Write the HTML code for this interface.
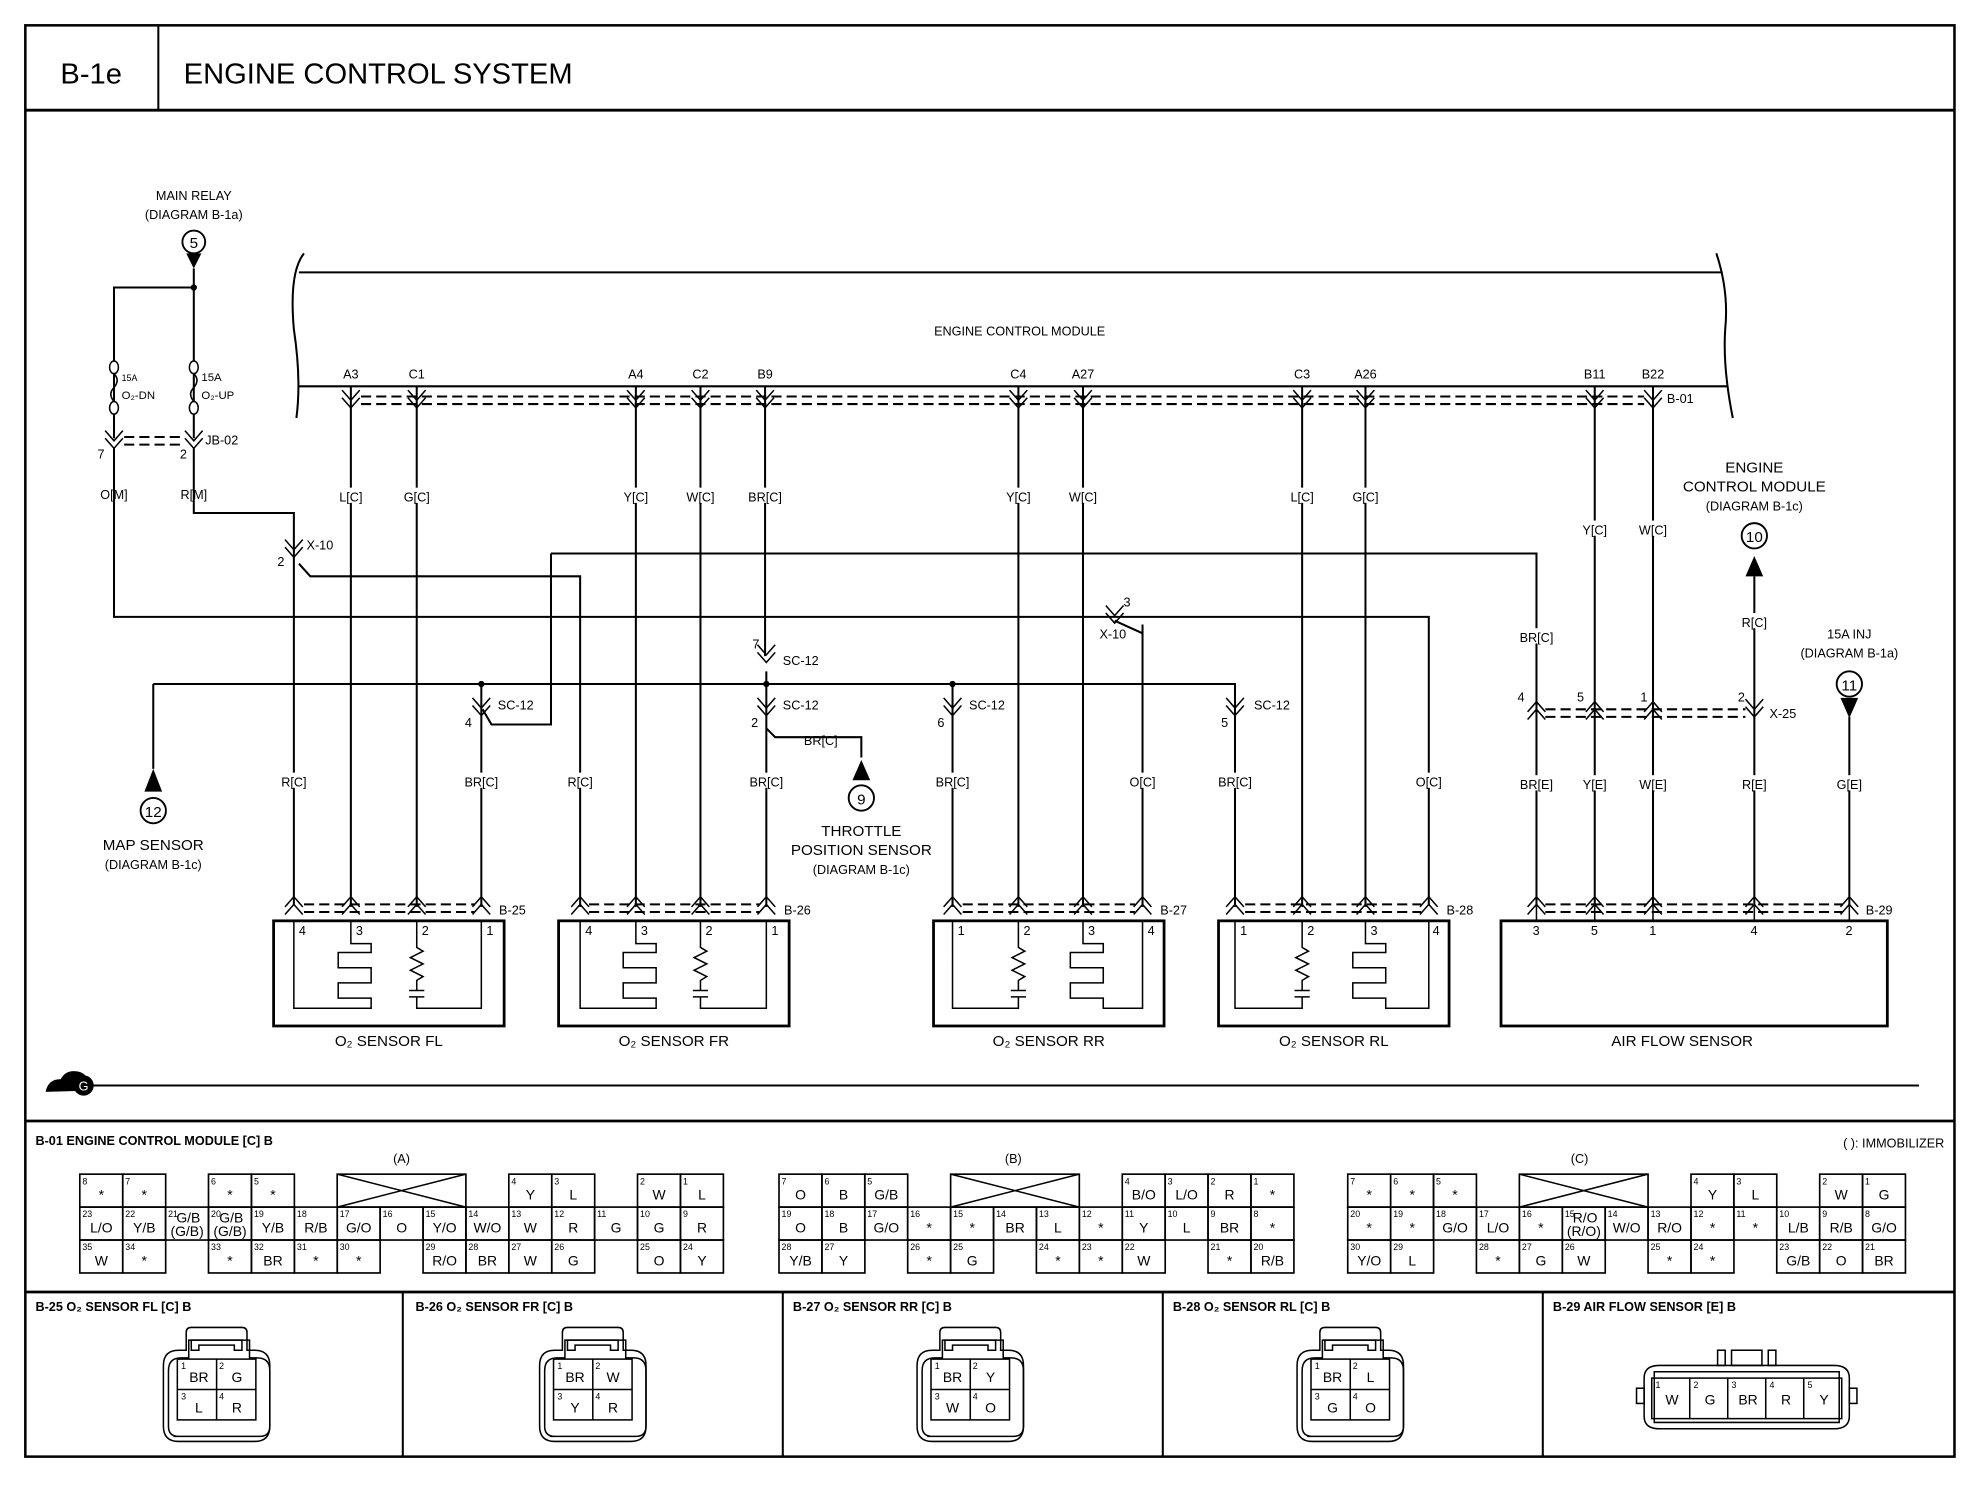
<!DOCTYPE html>
<html><head><meta charset="utf-8">
<style>
html,body{margin:0;padding:0;background:#fff}
svg{display:block}
text{font-family:"Liberation Sans",Arial,sans-serif;fill:#000}
.s{font-size:10px}
.m{font-size:12px}
.n{font-size:7px}
.l{font-size:11px;text-anchor:middle}
.w{stroke:#000;stroke-width:1.6;fill:none}
.t{stroke:#000;stroke-width:1.2;fill:none}
.d{stroke:#000;stroke-width:1.6;fill:none;stroke-dasharray:8,4}
.b{stroke:#000;stroke-width:2.2;fill:none}
</style></head><body>
<svg width="1976" height="1504" viewBox="0 0 1560 1187.4" preserveAspectRatio="none" xmlns="http://www.w3.org/2000/svg">
<defs>
<g id="c"><path d="M-7,-6 L0,2 L7,-6 M-7,0 L0,8 L7,0" class="t"/></g>
<g id="u"><path d="M-7,6 L0,-2 L7,6 M-7,12 L0,4 L7,12" class="t"/></g>
<g id="cell"><rect width="33.9" height="26" fill="none" stroke="#000" stroke-width="1.3"/></g>
</defs>
<rect x="20" y="20" width="1523" height="1130" fill="none" stroke="#000" stroke-width="2"/>
<line x1="20" y1="87" x2="1543" y2="87" class="b"/>
<line x1="125" y1="20" x2="125" y2="87" class="w"/>
<text x="72" y="66" font-size="23" text-anchor="middle">B-1e</text>
<text x="145" y="66" font-size="23">ENGINE CONTROL SYSTEM</text>

<!-- ECM -->
<path d="M240,200 Q228,215 232,260 Q238,300 234,330" class="w"/>
<path d="M1355,200 Q1365,230 1362,260 Q1360,290 1368,330" class="w"/>
<line x1="236" y1="215" x2="1360" y2="215" class="w"/>
<line x1="236" y1="305" x2="1364" y2="305" class="w"/>
<text x="805" y="265" class="s" text-anchor="middle">ENGINE CONTROL MODULE</text>
<g class="s" text-anchor="middle">
<text x="277" y="299">A3</text><text x="329" y="299">C1</text><text x="502" y="299">A4</text><text x="553" y="299">C2</text><text x="604" y="299">B9</text>
<text x="804" y="299">C4</text><text x="855" y="299">A27</text><text x="1028" y="299">C3</text><text x="1078" y="299">A26</text><text x="1259" y="299">B11</text><text x="1305" y="299">B22</text>
</g>
<line x1="285" y1="313" x2="1298" y2="313" class="d"/>
<line x1="285" y1="319" x2="1298" y2="319" class="d"/>
<g>
<use href="#c" x="277" y="314"/><use href="#c" x="329" y="314"/><use href="#c" x="502" y="314"/><use href="#c" x="553" y="314"/><use href="#c" x="604" y="314"/>
<use href="#c" x="804" y="314"/><use href="#c" x="855" y="314"/><use href="#c" x="1028" y="314"/><use href="#c" x="1078" y="314"/><use href="#c" x="1259" y="314"/><use href="#c" x="1305" y="314"/>
</g>
<text x="1316" y="318" class="s">B-01</text>

<!-- vertical ECM wires -->
<g class="w">
<line x1="277" y1="305" x2="277" y2="716"/><line x1="329" y1="305" x2="329" y2="716"/>
<line x1="502" y1="305" x2="502" y2="716"/><line x1="553" y1="305" x2="553" y2="716"/>
<line x1="604" y1="305" x2="604" y2="518"/>
<line x1="804" y1="305" x2="804" y2="716"/><line x1="855" y1="305" x2="855" y2="716"/>
<line x1="1028" y1="305" x2="1028" y2="716"/><line x1="1078" y1="305" x2="1078" y2="716"/>
<line x1="1259" y1="305" x2="1259" y2="716"/><line x1="1305" y1="305" x2="1305" y2="716"/>
</g>
<g class="s" text-anchor="middle">
<rect x="264" y="385" width="26" height="12" fill="#fff"/><text x="277" y="396">L[C]</text>
<rect x="316" y="385" width="26" height="12" fill="#fff"/><text x="329" y="396">G[C]</text>
<rect x="489" y="385" width="26" height="12" fill="#fff"/><text x="502" y="396">Y[C]</text>
<rect x="540" y="385" width="26" height="12" fill="#fff"/><text x="553" y="396">W[C]</text>
<rect x="588" y="385" width="32" height="12" fill="#fff"/><text x="604" y="396">BR[C]</text>
<rect x="791" y="385" width="26" height="12" fill="#fff"/><text x="804" y="396">Y[C]</text>
<rect x="842" y="385" width="26" height="12" fill="#fff"/><text x="855" y="396">W[C]</text>
<rect x="1015" y="385" width="26" height="12" fill="#fff"/><text x="1028" y="396">L[C]</text>
<rect x="1065" y="385" width="26" height="12" fill="#fff"/><text x="1078" y="396">G[C]</text>
<rect x="1246" y="411" width="26" height="12" fill="#fff"/><text x="1259" y="422">Y[C]</text>
<rect x="1292" y="411" width="26" height="12" fill="#fff"/><text x="1305" y="422">W[C]</text>
</g>

<!-- main relay -->
<text x="153" y="158" class="s" text-anchor="middle">MAIN RELAY</text>
<text x="153" y="173" class="s" text-anchor="middle">(DIAGRAM B-1a)</text>
<circle cx="153" cy="191" r="9" fill="#fff" stroke="#000" stroke-width="1.5"/><text x="153" y="196" class="m" text-anchor="middle">5</text>
<path d="M147,200 L159,200 L153,212 Z" fill="#000"/>
<g class="w">
<path d="M153,212 V346 M153,353 V405 H232 V715"/>
<path d="M153,227 H90 V346 M90,353 V487 H1128 V715"/>
<path d="M236,445 L245,455 H458 V716"/>
<path d="M902,493 L902,716"/>
<path d="M435,437 H1213 V716"/>
<path d="M435,437 V572 H388 L381,560"/>
<path d="M121,540 H975 V716"/>
<path d="M121,540 V607"/>
<path d="M380,540 V716"/>
<path d="M605,530 V716"/>
<path d="M752,540 V716"/>
<path d="M605,575 L612,582 H680 V598"/>
<path d="M1385,455 V716"/>
<path d="M1460,566 V716"/>
</g>
<circle cx="153" cy="227" r="2.5"/>
<circle cx="380" cy="540" r="2.5"/><circle cx="605" cy="540" r="2.5"/><circle cx="752" cy="540" r="2.5"/>
<!-- fuses -->
<g class="t" fill="#fff">
<ellipse cx="90" cy="290" rx="3.5" ry="5" fill="#fff"/><ellipse cx="90" cy="322" rx="3.5" ry="5" fill="#fff"/>
<path d="M90,295 q5,5 0,11 q-5,5 0,11" fill="none"/>
<ellipse cx="153" cy="290" rx="3.5" ry="5" fill="#fff"/><ellipse cx="153" cy="322" rx="3.5" ry="5" fill="#fff"/>
<path d="M153,295 q5,5 0,11 q-5,5 0,11" fill="none"/>
</g>
<text x="96" y="301" class="n" font-size="9">15A</text><text x="96" y="315" font-size="9">O₂-DN</text>
<text x="159" y="301" font-size="9">15A</text><text x="159" y="315" font-size="9">O₂-UP</text>
<line x1="98" y1="345" x2="146" y2="345" class="d"/><line x1="98" y1="351" x2="146" y2="351" class="d"/>
<use href="#c" x="90" y="346"/><use href="#c" x="153" y="346"/>
<text x="162" y="351" class="s">JB-02</text><text x="77" y="362" class="s">7</text><text x="142" y="362" class="s">2</text>
<text x="90" y="394" class="s" text-anchor="middle">O[M]</text><text x="153" y="394" class="s" text-anchor="middle">R[M]</text>
<use href="#c" x="232" y="432"/><text x="242" y="434" class="s">X-10</text><text x="219" y="447" class="s">2</text>
<use href="#c" x="880" y="484"/><text x="887" y="479" class="s">3</text><text x="868" y="504" class="s">X-10</text>
<path d="M880,490 L902,500" class="w"/>
<!-- SC-12 -->
<use href="#c" x="605" y="515"/><text x="594" y="512" class="s">7</text><text x="618" y="525" class="s">SC-12</text>
<use href="#c" x="380" y="557"/><text x="393" y="560" class="s">SC-12</text><text x="367" y="574" class="s">4</text>
<use href="#c" x="605" y="557"/><text x="618" y="560" class="s">SC-12</text><text x="593" y="574" class="s">2</text>
<use href="#c" x="752" y="557"/><text x="765" y="560" class="s">SC-12</text><text x="740" y="574" class="s">6</text>
<use href="#c" x="975" y="557"/><text x="990" y="560" class="s">SC-12</text><text x="964" y="574" class="s">5</text>
<text x="648" y="588" class="s" text-anchor="middle">BR[C]</text>
<!-- 9 -->
<path d="M673,616 L687,616 L680,600 Z" fill="#000"/>
<circle cx="680" cy="630" r="10" fill="#fff" stroke="#000" stroke-width="1.5"/><text x="680" y="635" class="m" text-anchor="middle">9</text>
<text x="680" y="660" class="m" text-anchor="middle">THROTTLE</text>
<text x="680" y="675" class="m" text-anchor="middle">POSITION SENSOR</text>
<text x="680" y="690" class="s" text-anchor="middle">(DIAGRAM B-1c)</text>
<!-- 12 -->
<path d="M114,625 L128,625 L121,607 Z" fill="#000"/>
<circle cx="121" cy="640" r="10" fill="#fff" stroke="#000" stroke-width="1.5"/><text x="121" y="645" class="m" text-anchor="middle">12</text>
<text x="121" y="671" class="m" text-anchor="middle">MAP SENSOR</text>
<text x="121" y="686" class="s" text-anchor="middle">(DIAGRAM B-1c)</text>
<!-- 10 -->
<text x="1385" y="373" class="m" text-anchor="middle">ENGINE</text>
<text x="1385" y="388" class="m" text-anchor="middle">CONTROL MODULE</text>
<text x="1385" y="403" class="s" text-anchor="middle">(DIAGRAM B-1c)</text>
<circle cx="1385" cy="423" r="10" fill="#fff" stroke="#000" stroke-width="1.5"/><text x="1385" y="428" class="m" text-anchor="middle">10</text>
<path d="M1378,455 L1392,455 L1385,439 Z" fill="#000"/>
<!-- 11 -->
<text x="1460" y="504" class="s" text-anchor="middle">15A INJ</text>
<text x="1460" y="519" class="s" text-anchor="middle">(DIAGRAM B-1a)</text>
<circle cx="1460" cy="540" r="10" fill="#fff" stroke="#000" stroke-width="1.5"/><text x="1460" y="545" class="m" text-anchor="middle">11</text>
<path d="M1453,551 L1467,551 L1460,567 Z" fill="#000"/>
<!-- X-25 -->
<line x1="1220" y1="560" x2="1378" y2="560" class="d"/><line x1="1220" y1="566" x2="1378" y2="566" class="d"/>
<use href="#u" x="1213" y="556"/><use href="#u" x="1259" y="556"/><use href="#u" x="1305" y="556"/><use href="#c" x="1385" y="558"/>
<text x="1198" y="554" class="s">4</text><text x="1245" y="554" class="s">5</text><text x="1295" y="554" class="s">1</text><text x="1372" y="554" class="s">2</text>
<text x="1397" y="567" class="s">X-25</text>

<!-- lower labels -->
<g class="s" text-anchor="middle">
<rect x="218" y="610" width="28" height="12" fill="#fff"/><text x="232" y="621">R[C]</text>
<rect x="364" y="610" width="32" height="12" fill="#fff"/><text x="380" y="621">BR[C]</text>
<rect x="444" y="610" width="28" height="12" fill="#fff"/><text x="458" y="621">R[C]</text>
<rect x="589" y="610" width="32" height="12" fill="#fff"/><text x="605" y="621">BR[C]</text>
<rect x="736" y="610" width="32" height="12" fill="#fff"/><text x="752" y="621">BR[C]</text>
<rect x="888" y="610" width="28" height="12" fill="#fff"/><text x="902" y="621">O[C]</text>
<rect x="959" y="610" width="32" height="12" fill="#fff"/><text x="975" y="621">BR[C]</text>
<rect x="1114" y="610" width="28" height="12" fill="#fff"/><text x="1128" y="621">O[C]</text>
<rect x="1197" y="496" width="32" height="12" fill="#fff"/><text x="1213" y="507">BR[C]</text>
<rect x="1371" y="484" width="28" height="12" fill="#fff"/><text x="1385" y="495">R[C]</text>
<rect x="1197" y="612" width="32" height="12" fill="#fff"/><text x="1213" y="623">BR[E]</text>
<rect x="1245" y="612" width="28" height="12" fill="#fff"/><text x="1259" y="623">Y[E]</text>
<rect x="1291" y="612" width="28" height="12" fill="#fff"/><text x="1305" y="623">W[E]</text>
<rect x="1371" y="612" width="28" height="12" fill="#fff"/><text x="1385" y="623">R[E]</text>
<rect x="1446" y="612" width="28" height="12" fill="#fff"/><text x="1460" y="623">G[E]</text>
</g>

<!-- sensor connectors -->
<g>
<path d="M240,714 H375 M240,720 H375" class="d"/>
<use href="#u" x="232" y="710"/><use href="#u" x="277" y="710"/><use href="#u" x="329" y="710"/><use href="#u" x="380" y="710"/>
<text x="394" y="722" class="s">B-25</text>
<path d="M465,714 H600 M465,720 H600" class="d"/>
<use href="#u" x="458" y="710"/><use href="#u" x="502" y="710"/><use href="#u" x="553" y="710"/><use href="#u" x="605" y="710"/>
<text x="619" y="722" class="s">B-26</text>
<path d="M760,714 H896 M760,720 H896" class="d"/>
<use href="#u" x="752" y="710"/><use href="#u" x="804" y="710"/><use href="#u" x="855" y="710"/><use href="#u" x="902" y="710"/>
<text x="916" y="722" class="s">B-27</text>
<path d="M983,714 H1122 M983,720 H1122" class="d"/>
<use href="#u" x="975" y="710"/><use href="#u" x="1028" y="710"/><use href="#u" x="1078" y="710"/><use href="#u" x="1128" y="710"/>
<text x="1142" y="722" class="s">B-28</text>
<path d="M1220,714 H1455 M1220,720 H1455" class="d"/>
<use href="#u" x="1213" y="710"/><use href="#u" x="1259" y="710"/><use href="#u" x="1305" y="710"/><use href="#u" x="1385" y="710"/><use href="#u" x="1460" y="710"/>
<text x="1473" y="722" class="s">B-29</text>
</g>

<!-- sensor boxes -->
<g class="b">
<rect x="216" y="727" width="182" height="83"/><rect x="441" y="727" width="182" height="83"/>
<rect x="737" y="727" width="182" height="83"/><rect x="962" y="727" width="182" height="83"/>
<rect x="1185" y="727" width="305" height="83"/>
</g>
<g class="t">
<!-- FL: 4@232 meander@277 res@329 1@380 -->
<path d="M232,727 V796 H293 V788 H267 V776 H293 V764 H267 V752 H293 V745 H277 V727"/>
<path d="M329,727 V748 l5,3 l-10,5 l10,5 l-10,5 l10,5 l-5,3 V782 M323,782 h12 M323,787 h12 M329,787 V796 H380 V727"/>
<path d="M458,727 V796 H518 V788 H492 V776 H518 V764 H492 V752 H518 V745 H502 V727"/>
<path d="M553,727 V748 l5,3 l-10,5 l10,5 l-10,5 l10,5 l-5,3 V782 M547,782 h12 M547,787 h12 M553,787 V796 H605 V727"/>
<!-- RR: 1@752 res@804 meander@855 4@902 -->
<path d="M752,727 V796 H804 V787 M798,787 h12 M798,782 h12 M804,782 V774 l5,-3 l-10,-5 l10,-5 l-10,-5 l10,-5 l-5,-3 V727"/>
<path d="M855,727 V745 H871 V752 H845 V764 H871 V776 H845 V788 H871 V796 H902 V727" />
<path d="M975,727 V796 H1028 V787 M1022,787 h12 M1022,782 h12 M1028,782 V774 l5,-3 l-10,-5 l10,-5 l-10,-5 l10,-5 l-5,-3 V727"/>
<path d="M1078,727 V745 H1094 V752 H1068 V764 H1094 V776 H1068 V788 H1094 V796 H1128 V727"/>
<path d="M1213,716 V727 M1259,716 V727 M1305,716 V727 M1385,716 V727 M1460,716 V727"/>
</g>
<g class="s">
<text x="236" y="738">4</text><text x="281" y="738">3</text><text x="333" y="738">2</text><text x="384" y="738">1</text>
<text x="462" y="738">4</text><text x="506" y="738">3</text><text x="557" y="738">2</text><text x="609" y="738">1</text>
<text x="756" y="738">1</text><text x="808" y="738">2</text><text x="859" y="738">3</text><text x="906" y="738">4</text>
<text x="979" y="738">1</text><text x="1032" y="738">2</text><text x="1082" y="738">3</text><text x="1131" y="738">4</text>
<text x="1210" y="738">3</text><text x="1256" y="738">5</text><text x="1302" y="738">1</text><text x="1382" y="738">4</text><text x="1457" y="738">2</text>
</g>
<g class="m" text-anchor="middle">
<text x="307" y="826">O₂ SENSOR FL</text><text x="532" y="826">O₂ SENSOR FR</text>
<text x="828" y="826">O₂ SENSOR RR</text><text x="1053" y="826">O₂ SENSOR RL</text>
<text x="1328" y="826">AIR FLOW SENSOR</text>
</g>
<!-- ground -->
<line x1="70" y1="857" x2="1515" y2="857" class="w"/>
<path d="M36,862 q2,-10 12,-10 q4,-8 14,-6 q8,2 8,11 v4 z" fill="#000"/>
<circle cx="66" cy="857" r="8" fill="#000"/><text x="66" y="861" font-size="10" fill="#fff" style="fill:#fff" text-anchor="middle">G</text>

<!-- bottom section -->
<line x1="20" y1="885" x2="1543" y2="885" class="b"/>
<line x1="20" y1="1020" x2="1543" y2="1020" class="b"/>
<g class="w"><line x1="318" y1="1020" x2="318" y2="1150"/><line x1="618" y1="1020" x2="618" y2="1150"/><line x1="918" y1="1020" x2="918" y2="1150"/><line x1="1218" y1="1020" x2="1218" y2="1150"/></g>
<text x="28" y="904" class="s" font-weight="bold">B-01 ENGINE CONTROL MODULE [C] B</text>
<text x="1535" y="906" class="s" text-anchor="end">( ): IMMOBILIZER</text>
<g class="s" text-anchor="middle"><text x="317" y="918">(A)</text><text x="800" y="918">(B)</text><text x="1247" y="918">(C)</text></g>

<!-- GROUP A -->
<g>
<g transform="translate(63,927)"><use href="#cell"/><text x="2" y="8" class="n">8</text><text x="17" y="20" class="l">*</text></g>
<g transform="translate(96.9,927)"><use href="#cell"/><text x="2" y="8" class="n">7</text><text x="17" y="20" class="l">*</text></g>
<g transform="translate(164.6,927)"><use href="#cell"/><text x="2" y="8" class="n">6</text><text x="17" y="20" class="l">*</text></g>
<g transform="translate(198.5,927)"><use href="#cell"/><text x="2" y="8" class="n">5</text><text x="17" y="20" class="l">*</text></g>
<g transform="translate(266.2,927)"><rect width="101.6" height="26" fill="none" stroke="#000" stroke-width="1.3"/><path d="M0,0 L101.6,26 M101.6,0 L0,26" class="t"/></g>
<g transform="translate(401.7,927)"><use href="#cell"/><text x="2" y="8" class="n">4</text><text x="17" y="20" class="l">Y</text></g>
<g transform="translate(435.6,927)"><use href="#cell"/><text x="2" y="8" class="n">3</text><text x="17" y="20" class="l">L</text></g>
<g transform="translate(503.3,927)"><use href="#cell"/><text x="2" y="8" class="n">2</text><text x="17" y="20" class="l">W</text></g>
<g transform="translate(537.2,927)"><use href="#cell"/><text x="2" y="8" class="n">1</text><text x="17" y="20" class="l">L</text></g>

<g transform="translate(63,953)"><use href="#cell"/><text x="2" y="8" class="n">23</text><text x="17" y="20" class="l">L/O</text></g>
<g transform="translate(96.9,953)"><use href="#cell"/><text x="2" y="8" class="n">22</text><text x="17" y="20" class="l">Y/B</text></g>
<g transform="translate(130.7,953)"><use href="#cell"/><text x="2" y="8" class="n">21</text><text x="18" y="12" class="l">G/B</text><text x="17" y="23" class="l">(G/B)</text></g>
<g transform="translate(164.6,953)"><use href="#cell"/><text x="2" y="8" class="n">20</text><text x="18" y="12" class="l">G/B</text><text x="17" y="23" class="l">(G/B)</text></g>
<g transform="translate(198.5,953)"><use href="#cell"/><text x="2" y="8" class="n">19</text><text x="17" y="20" class="l">Y/B</text></g>
<g transform="translate(232.4,953)"><use href="#cell"/><text x="2" y="8" class="n">18</text><text x="17" y="20" class="l">R/B</text></g>
<g transform="translate(266.2,953)"><use href="#cell"/><text x="2" y="8" class="n">17</text><text x="17" y="20" class="l">G/O</text></g>
<g transform="translate(300.1,953)"><use href="#cell"/><text x="2" y="8" class="n">16</text><text x="17" y="20" class="l">O</text></g>
<g transform="translate(334,953)"><use href="#cell"/><text x="2" y="8" class="n">15</text><text x="17" y="20" class="l">Y/O</text></g>
<g transform="translate(367.8,953)"><use href="#cell"/><text x="2" y="8" class="n">14</text><text x="17" y="20" class="l">W/O</text></g>
<g transform="translate(401.7,953)"><use href="#cell"/><text x="2" y="8" class="n">13</text><text x="17" y="20" class="l">W</text></g>
<g transform="translate(435.6,953)"><use href="#cell"/><text x="2" y="8" class="n">12</text><text x="17" y="20" class="l">R</text></g>
<g transform="translate(469.4,953)"><use href="#cell"/><text x="2" y="8" class="n">11</text><text x="17" y="20" class="l">G</text></g>
<g transform="translate(503.3,953)"><use href="#cell"/><text x="2" y="8" class="n">10</text><text x="17" y="20" class="l">G</text></g>
<g transform="translate(537.2,953)"><use href="#cell"/><text x="2" y="8" class="n">9</text><text x="17" y="20" class="l">R</text></g>

<g transform="translate(63,979)"><use href="#cell"/><text x="2" y="8" class="n">35</text><text x="17" y="20" class="l">W</text></g>
<g transform="translate(96.9,979)"><use href="#cell"/><text x="2" y="8" class="n">34</text><text x="17" y="20" class="l">*</text></g>
<g transform="translate(164.6,979)"><use href="#cell"/><text x="2" y="8" class="n">33</text><text x="17" y="20" class="l">*</text></g>
<g transform="translate(198.5,979)"><use href="#cell"/><text x="2" y="8" class="n">32</text><text x="17" y="20" class="l">BR</text></g>
<g transform="translate(232.4,979)"><use href="#cell"/><text x="2" y="8" class="n">31</text><text x="17" y="20" class="l">*</text></g>
<g transform="translate(266.2,979)"><use href="#cell"/><text x="2" y="8" class="n">30</text><text x="17" y="20" class="l">*</text></g>
<g transform="translate(334,979)"><use href="#cell"/><text x="2" y="8" class="n">29</text><text x="17" y="20" class="l">R/O</text></g>
<g transform="translate(367.8,979)"><use href="#cell"/><text x="2" y="8" class="n">28</text><text x="17" y="20" class="l">BR</text></g>
<g transform="translate(401.7,979)"><use href="#cell"/><text x="2" y="8" class="n">27</text><text x="17" y="20" class="l">W</text></g>
<g transform="translate(435.6,979)"><use href="#cell"/><text x="2" y="8" class="n">26</text><text x="17" y="20" class="l">G</text></g>
<g transform="translate(503.3,979)"><use href="#cell"/><text x="2" y="8" class="n">25</text><text x="17" y="20" class="l">O</text></g>
<g transform="translate(537.2,979)"><use href="#cell"/><text x="2" y="8" class="n">24</text><text x="17" y="20" class="l">Y</text></g>
</g>

<!-- GROUP B -->
<g>
<g transform="translate(615,927)"><use href="#cell"/><text x="2" y="8" class="n">7</text><text x="17" y="20" class="l">O</text></g>
<g transform="translate(648.9,927)"><use href="#cell"/><text x="2" y="8" class="n">6</text><text x="17" y="20" class="l">B</text></g>
<g transform="translate(682.7,927)"><use href="#cell"/><text x="2" y="8" class="n">5</text><text x="17" y="20" class="l">G/B</text></g>
<g transform="translate(750.5,927)"><rect width="101.6" height="26" fill="none" stroke="#000" stroke-width="1.3"/><path d="M0,0 L101.6,26 M101.6,0 L0,26" class="t"/></g>
<g transform="translate(886,927)"><use href="#cell"/><text x="2" y="8" class="n">4</text><text x="17" y="20" class="l">B/O</text></g>
<g transform="translate(919.8,927)"><use href="#cell"/><text x="2" y="8" class="n">3</text><text x="17" y="20" class="l">L/O</text></g>
<g transform="translate(953.7,927)"><use href="#cell"/><text x="2" y="8" class="n">2</text><text x="17" y="20" class="l">R</text></g>
<g transform="translate(987.6,927)"><use href="#cell"/><text x="2" y="8" class="n">1</text><text x="17" y="20" class="l">*</text></g>

<g transform="translate(615,953)"><use href="#cell"/><text x="2" y="8" class="n">19</text><text x="17" y="20" class="l">O</text></g>
<g transform="translate(648.9,953)"><use href="#cell"/><text x="2" y="8" class="n">18</text><text x="17" y="20" class="l">B</text></g>
<g transform="translate(682.7,953)"><use href="#cell"/><text x="2" y="8" class="n">17</text><text x="17" y="20" class="l">G/O</text></g>
<g transform="translate(716.6,953)"><use href="#cell"/><text x="2" y="8" class="n">16</text><text x="17" y="20" class="l">*</text></g>
<g transform="translate(750.5,953)"><use href="#cell"/><text x="2" y="8" class="n">15</text><text x="17" y="20" class="l">*</text></g>
<g transform="translate(784.4,953)"><use href="#cell"/><text x="2" y="8" class="n">14</text><text x="17" y="20" class="l">BR</text></g>
<g transform="translate(818.2,953)"><use href="#cell"/><text x="2" y="8" class="n">13</text><text x="17" y="20" class="l">L</text></g>
<g transform="translate(852.1,953)"><use href="#cell"/><text x="2" y="8" class="n">12</text><text x="17" y="20" class="l">*</text></g>
<g transform="translate(886,953)"><use href="#cell"/><text x="2" y="8" class="n">11</text><text x="17" y="20" class="l">Y</text></g>
<g transform="translate(919.8,953)"><use href="#cell"/><text x="2" y="8" class="n">10</text><text x="17" y="20" class="l">L</text></g>
<g transform="translate(953.7,953)"><use href="#cell"/><text x="2" y="8" class="n">9</text><text x="17" y="20" class="l">BR</text></g>
<g transform="translate(987.6,953)"><use href="#cell"/><text x="2" y="8" class="n">8</text><text x="17" y="20" class="l">*</text></g>

<g transform="translate(615,979)"><use href="#cell"/><text x="2" y="8" class="n">28</text><text x="17" y="20" class="l">Y/B</text></g>
<g transform="translate(648.9,979)"><use href="#cell"/><text x="2" y="8" class="n">27</text><text x="17" y="20" class="l">Y</text></g>
<g transform="translate(716.6,979)"><use href="#cell"/><text x="2" y="8" class="n">26</text><text x="17" y="20" class="l">*</text></g>
<g transform="translate(750.5,979)"><use href="#cell"/><text x="2" y="8" class="n">25</text><text x="17" y="20" class="l">G</text></g>
<g transform="translate(818.2,979)"><use href="#cell"/><text x="2" y="8" class="n">24</text><text x="17" y="20" class="l">*</text></g>
<g transform="translate(852.1,979)"><use href="#cell"/><text x="2" y="8" class="n">23</text><text x="17" y="20" class="l">*</text></g>
<g transform="translate(886,979)"><use href="#cell"/><text x="2" y="8" class="n">22</text><text x="17" y="20" class="l">W</text></g>
<g transform="translate(953.7,979)"><use href="#cell"/><text x="2" y="8" class="n">21</text><text x="17" y="20" class="l">*</text></g>
<g transform="translate(987.6,979)"><use href="#cell"/><text x="2" y="8" class="n">20</text><text x="17" y="20" class="l">R/B</text></g>
</g>

<!-- GROUP C -->
<g>
<g transform="translate(1064,927)"><use href="#cell"/><text x="2" y="8" class="n">7</text><text x="17" y="20" class="l">*</text></g>
<g transform="translate(1097.9,927)"><use href="#cell"/><text x="2" y="8" class="n">6</text><text x="17" y="20" class="l">*</text></g>
<g transform="translate(1131.7,927)"><use href="#cell"/><text x="2" y="8" class="n">5</text><text x="17" y="20" class="l">*</text></g>
<g transform="translate(1199.5,927)"><rect width="101.6" height="26" fill="none" stroke="#000" stroke-width="1.3"/><path d="M0,0 L101.6,26 M101.6,0 L0,26" class="t"/></g>
<g transform="translate(1335,927)"><use href="#cell"/><text x="2" y="8" class="n">4</text><text x="17" y="20" class="l">Y</text></g>
<g transform="translate(1368.8,927)"><use href="#cell"/><text x="2" y="8" class="n">3</text><text x="17" y="20" class="l">L</text></g>
<g transform="translate(1436.6,927)"><use href="#cell"/><text x="2" y="8" class="n">2</text><text x="17" y="20" class="l">W</text></g>
<g transform="translate(1470.4,927)"><use href="#cell"/><text x="2" y="8" class="n">1</text><text x="17" y="20" class="l">G</text></g>

<g transform="translate(1064,953)"><use href="#cell"/><text x="2" y="8" class="n">20</text><text x="17" y="20" class="l">*</text></g>
<g transform="translate(1097.9,953)"><use href="#cell"/><text x="2" y="8" class="n">19</text><text x="17" y="20" class="l">*</text></g>
<g transform="translate(1131.7,953)"><use href="#cell"/><text x="2" y="8" class="n">18</text><text x="17" y="20" class="l">G/O</text></g>
<g transform="translate(1165.6,953)"><use href="#cell"/><text x="2" y="8" class="n">17</text><text x="17" y="20" class="l">L/O</text></g>
<g transform="translate(1199.5,953)"><use href="#cell"/><text x="2" y="8" class="n">16</text><text x="17" y="20" class="l">*</text></g>
<g transform="translate(1233.4,953)"><use href="#cell"/><text x="2" y="8" class="n">15</text><text x="18" y="12" class="l">R/O</text><text x="17" y="23" class="l">(R/O)</text></g>
<g transform="translate(1267.2,953)"><use href="#cell"/><text x="2" y="8" class="n">14</text><text x="17" y="20" class="l">W/O</text></g>
<g transform="translate(1301.1,953)"><use href="#cell"/><text x="2" y="8" class="n">13</text><text x="17" y="20" class="l">R/O</text></g>
<g transform="translate(1335,953)"><use href="#cell"/><text x="2" y="8" class="n">12</text><text x="17" y="20" class="l">*</text></g>
<g transform="translate(1368.8,953)"><use href="#cell"/><text x="2" y="8" class="n">11</text><text x="17" y="20" class="l">*</text></g>
<g transform="translate(1402.7,953)"><use href="#cell"/><text x="2" y="8" class="n">10</text><text x="17" y="20" class="l">L/B</text></g>
<g transform="translate(1436.6,953)"><use href="#cell"/><text x="2" y="8" class="n">9</text><text x="17" y="20" class="l">R/B</text></g>
<g transform="translate(1470.4,953)"><use href="#cell"/><text x="2" y="8" class="n">8</text><text x="17" y="20" class="l">G/O</text></g>

<g transform="translate(1064,979)"><use href="#cell"/><text x="2" y="8" class="n">30</text><text x="17" y="20" class="l">Y/O</text></g>
<g transform="translate(1097.9,979)"><use href="#cell"/><text x="2" y="8" class="n">29</text><text x="17" y="20" class="l">L</text></g>
<g transform="translate(1165.6,979)"><use href="#cell"/><text x="2" y="8" class="n">28</text><text x="17" y="20" class="l">*</text></g>
<g transform="translate(1199.5,979)"><use href="#cell"/><text x="2" y="8" class="n">27</text><text x="17" y="20" class="l">G</text></g>
<g transform="translate(1233.4,979)"><use href="#cell"/><text x="2" y="8" class="n">26</text><text x="17" y="20" class="l">W</text></g>
<g transform="translate(1301.1,979)"><use href="#cell"/><text x="2" y="8" class="n">25</text><text x="17" y="20" class="l">*</text></g>
<g transform="translate(1335,979)"><use href="#cell"/><text x="2" y="8" class="n">24</text><text x="17" y="20" class="l">*</text></g>
<g transform="translate(1402.7,979)"><use href="#cell"/><text x="2" y="8" class="n">23</text><text x="17" y="20" class="l">G/B</text></g>
<g transform="translate(1436.6,979)"><use href="#cell"/><text x="2" y="8" class="n">22</text><text x="17" y="20" class="l">O</text></g>
<g transform="translate(1470.4,979)"><use href="#cell"/><text x="2" y="8" class="n">21</text><text x="17" y="20" class="l">BR</text></g>
</g>

<!-- small connectors -->
<g class="s" font-weight="bold">
<text x="28" y="1035">B-25 O₂ SENSOR FL [C] B</text>
<text x="328" y="1035">B-26 O₂ SENSOR FR [C] B</text>
<text x="626" y="1035">B-27 O₂ SENSOR RR [C] B</text>
<text x="926" y="1035">B-28 O₂ SENSOR RL [C] B</text>
<text x="1226" y="1035">B-29 AIR FLOW SENSOR [E] B</text>
</g>
<g id="k1" transform="translate(171,0)">
<path d="M-30,1138 h60 q12,0 12,-12 v-48 q0,-12 -12,-12 h-6 v-14 q0,-4 -4,-4 h-40 q-4,0 -4,4 v14 h-6 q-12,0 -12,12 v48 q0,12 12,12 z" class="t"/>
<path d="M-34,1134 h68 q8,0 8,-8 v-44 q0,-10 -10,-10 h-6 v-14 h-48 v14 h-6 q-10,0 -10,10 v44 q0,8 8,8 z" class="t"/>
<path d="M-20,1058 h40 v8 h-6 v-4 h-28 v4 h-6 z" class="t"/>
<rect x="-31" y="1073" width="62" height="48" class="t"/>
<line x1="0" y1="1073" x2="0" y2="1121" class="t"/><line x1="-31" y1="1097" x2="31" y2="1097" class="t"/>
</g>
<use href="#k1" x="297"/><use href="#k1" x="595"/><use href="#k1" x="895"/>
<g class="l">
<text x="157" y="1091">BR</text><text x="187" y="1091">G</text><text x="157" y="1115">L</text><text x="187" y="1115">R</text>
<text x="454" y="1091">BR</text><text x="484" y="1091">W</text><text x="454" y="1115">Y</text><text x="484" y="1115">R</text>
<text x="752" y="1091">BR</text><text x="782" y="1091">Y</text><text x="752" y="1115">W</text><text x="782" y="1115">O</text>
<text x="1052" y="1091">BR</text><text x="1082" y="1091">L</text><text x="1052" y="1115">G</text><text x="1082" y="1115">O</text>
</g>
<g class="n">
<text x="143" y="1081">1</text><text x="173" y="1081">2</text><text x="143" y="1105">3</text><text x="173" y="1105">4</text>
<text x="440" y="1081">1</text><text x="470" y="1081">2</text><text x="440" y="1105">3</text><text x="470" y="1105">4</text>
<text x="738" y="1081">1</text><text x="768" y="1081">2</text><text x="738" y="1105">3</text><text x="768" y="1105">4</text>
<text x="1038" y="1081">1</text><text x="1068" y="1081">2</text><text x="1038" y="1105">3</text><text x="1068" y="1105">4</text>
</g>
<!-- B-29 -->
<g class="t">
<path d="M1310,1078 q-12,0 -12,10 v30 q0,10 12,10 h138 q12,0 12,-10 v-30 q0,-10 -12,-10 z"/>
<path d="M1306,1083 h146 v40 h-146 z"/>
<rect x="1304" y="1088" width="150" height="32"/>
<line x1="1334" y1="1088" x2="1334" y2="1120"/><line x1="1364" y1="1088" x2="1364" y2="1120"/><line x1="1394" y1="1088" x2="1394" y2="1120"/><line x1="1424" y1="1088" x2="1424" y2="1120"/>
<rect x="1367" y="1066" width="24" height="12"/><rect x="1356" y="1066" width="6" height="12"/><rect x="1396" y="1066" width="6" height="12"/>
<rect x="1292" y="1096" width="6" height="12"/><rect x="1460" y="1096" width="6" height="12"/>
</g>
<g class="l"><text x="1320" y="1109">W</text><text x="1350" y="1109">G</text><text x="1380" y="1109">BR</text><text x="1410" y="1109">R</text><text x="1440" y="1109">Y</text></g>
<g class="n"><text x="1307" y="1096">1</text><text x="1337" y="1096">2</text><text x="1367" y="1096">3</text><text x="1397" y="1096">4</text><text x="1427" y="1096">5</text></g>
</svg>
</body></html>
